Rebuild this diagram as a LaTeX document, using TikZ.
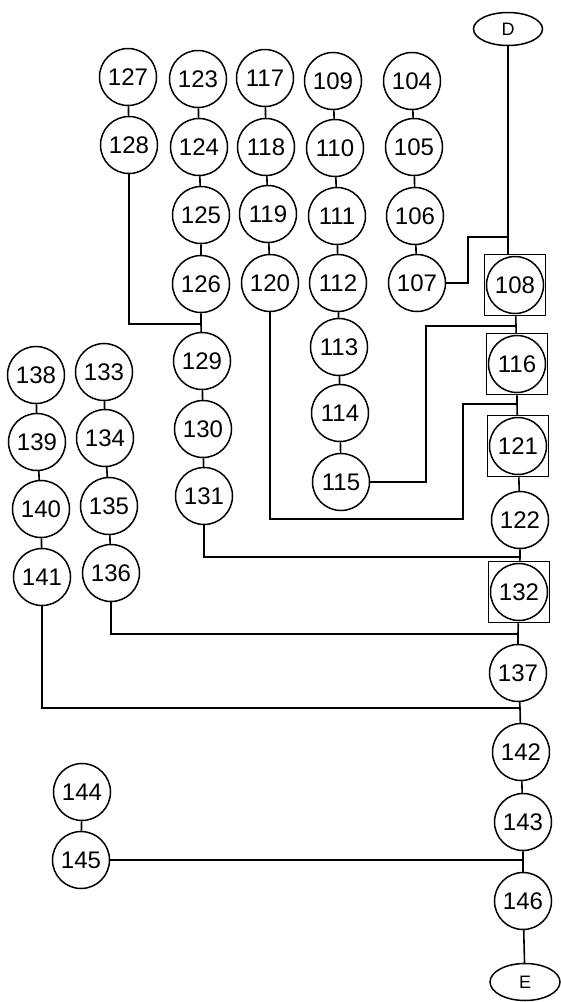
\documentclass[tikz,border=0pt]{standalone}
\usepackage{fontspec}
\newfontfamily\plotfont{Liberation Sans}
\usetikzlibrary{shapes.geometric}

\begin{document}
\begin{tikzpicture}[
  x=1pt,y=-1pt,
  state/.style={draw,circle,line width=1.5pt,minimum size=57pt,inner sep=0pt,font=\plotfont\fontsize{24}{24}\selectfont},
  frame/.style={draw,rectangle,line width=1.5pt,minimum size=61pt,inner sep=0pt},
  term/.style={draw,ellipse,line width=1.5pt,minimum width=69pt,minimum height=33pt,inner sep=0pt,font=\plotfont\fontsize{18}{18}\selectfont},
  link/.style={line width=1.6pt}
]
\useasboundingbox (0,0) rectangle (561,1002);

\node[state] (n127) at (128,77) {127};
\node[state] (n128) at (129,145) {128};
\node[state] (n123) at (198,79) {123};
\node[state] (n124) at (199,147) {124};
\node[state] (n125) at (201,215) {125};
\node[state] (n126) at (201,284) {126};
\node[state] (n129) at (202,361) {129};
\node[state] (n130) at (203,429) {130};
\node[state] (n131) at (204,496) {131};
\node[state] (n117) at (265,78) {117};
\node[state] (n118) at (266,147) {118};
\node[state] (n119) at (268,214) {119};
\node[state] (n120) at (270,283) {120};
\node[state] (n109) at (333,81) {109};
\node[state] (n110) at (335,148) {110};
\node[state] (n111) at (337,216) {111};
\node[state] (n112) at (338,283) {112};
\node[state] (n113) at (339,347) {113};
\node[state] (n114) at (340,413) {114};
\node[state] (n115) at (341,482) {115};
\node[state] (n104) at (412,81) {104};
\node[state] (n105) at (414,147) {105};
\node[state] (n106) at (415,216) {106};
\node[state] (n107) at (417,283) {107};
\node[state] (n138) at (36,375) {138};
\node[state] (n139) at (37,442) {139};
\node[state] (n140) at (41,509) {140};
\node[state] (n141) at (42,577) {141};
\node[state] (n133) at (104,372) {133};
\node[state] (n134) at (105,438) {134};
\node[state] (n135) at (109,506) {135};
\node[state] (n136) at (111,573) {136};
\node[state] (n144) at (82,792) {144};
\node[state] (n145) at (81,860) {145};

\node[term] (nD) at (508,29) {D};
\node[state] (n108) at (515,285) {108};
\node[state] (n116) at (517,364) {116};
\node[state] (n121) at (518,446) {121};
\node[state] (n122) at (520,520) {122};
\node[state] (n132) at (519,592) {132};
\node[state] (n137) at (518,673) {137};
\node[state] (n142) at (521,752) {142};
\node[state] (n143) at (523,822) {143};
\node[state] (n146) at (523,901) {146};
\node[term,minimum width=70pt,minimum height=37pt] (nE) at (525,982) {E};
\node[frame] (f108) at (n108) {};
\node[frame] (f116) at (n116) {};
\node[frame] (f121) at (n121) {};
\node[frame] (f132) at (n132) {};

\coordinate (j107) at (508,237);
\coordinate (j115) at (516,326);
\coordinate (j120) at (517,404);
\coordinate (j128) at (201,324);
\coordinate (j131) at (520,557);
\coordinate (j136) at (518,634);
\coordinate (j141) at (520,708);
\coordinate (j145) at (523,860);

\draw[link] (n127) -- (n128);
\draw[link] (n123) -- (n124) -- (n125) -- (n126) -- (j128) -- (n129) -- (n130) -- (n131);
\draw[link] (n117) -- (n118) -- (n119) -- (n120);
\draw[link] (n109) -- (n110) -- (n111) -- (n112) -- (n113) -- (n114) -- (n115);
\draw[link] (n104) -- (n105) -- (n106) -- (n107);
\draw[link] (n138) -- (n139) -- (n140) -- (n141);
\draw[link] (n133) -- (n134) -- (n135) -- (n136);
\draw[link] (n144) -- (n145);

\draw[link] (nD) -- (j107) -- (j107 |- f108.north);
\draw[link] (f108) -- (j115) -- (f116) -- (j120) -- (f121) -- (n122) -- (j131) -- (f132) -- (j136) -- (n137) -- (j141) -- (n142) -- (n143) -- (j145) -- (n146) -- (nE);

\draw[link] (n107.east) -- (468,283) |- (j107);
\draw[link] (n115.east) -- (426,482) |- (j115);
\draw[link] (n120.south) |- (463,519) |- (j120);
\draw[link] (n128.south) |- (j128);
\draw[link] (n131.south) |- (j131);
\draw[link] (n136.south) |- (j136);
\draw[link] (n141.south) |- (j141);
\draw[link] (n145.east) -- (j145);
\end{tikzpicture}
\end{document}
